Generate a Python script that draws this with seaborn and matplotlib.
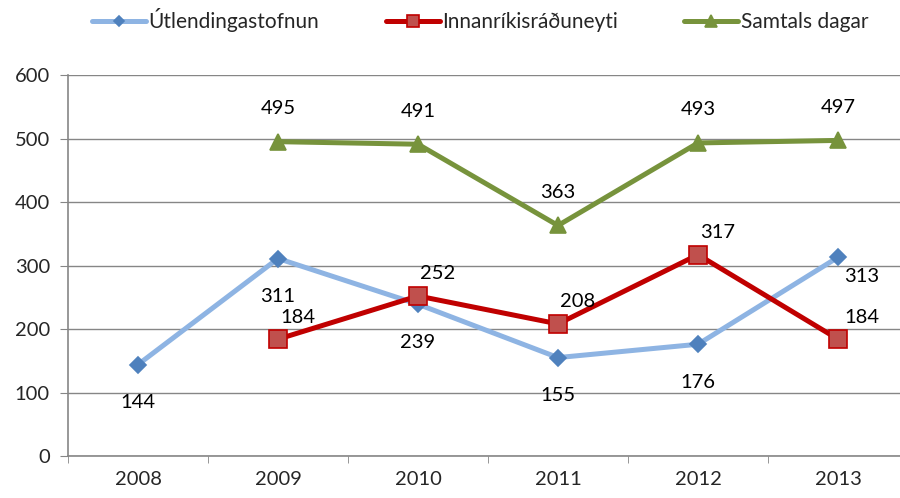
import matplotlib
matplotlib.use("Agg")
import matplotlib.pyplot as plt
from matplotlib.ticker import FixedLocator
import seaborn as sns
import pandas as pd
import numpy as np

years = ["2008", "2009", "2010", "2011", "2012", "2013"]
utlendingastofnun = [144, 311, 239, 155, 176, 313]
innanrikis = [np.nan, 184, 252, 208, 317, 184]
samtals = [np.nan, 495, 491, 363, 493, 497]

sns.set_style("white")
plt.rcParams["font.family"] = ["Lato", "DejaVu Sans"]

df = pd.DataFrame({
    "pos": range(len(years)),
    "Útlendingastofnun": utlendingastofnun,
    "Innanríkisráðuneyti": innanrikis,
    "Samtals dagar": samtals,
})

fig = plt.figure(figsize=(9, 4.98), dpi=100)
ax = fig.add_axes([68 / 900, 42 / 498, 840 / 900, 381 / 498])

styles = {
    "Útlendingastofnun": dict(color="#8EB4E3", marker="D", mfc="#4F81BD", mec="#4F81BD", ms=8),
    "Innanríkisráðuneyti": dict(color="#C00000", marker="s", mfc="#C0504D", mec="#C00000", ms=13),
    "Samtals dagar": dict(color="#77933C", marker="^", mfc="#77933C", mec="#77933C", ms=12),
}
label_offsets = {
    "Útlendingastofnun": (0, -38),
    "Innanríkisráðuneyti": (20, 22),
    "Samtals dagar": (0, 33),
}

for name, st in styles.items():
    sub = df.dropna(subset=[name])
    sns.lineplot(data=sub, x="pos", y=name, ax=ax, color=st["color"], lw=3.6,
                 marker=st["marker"], markersize=st["ms"], markerfacecolor=st["mfc"],
                 markeredgecolor=st["mec"], markeredgewidth=1.2, label=name, zorder=3)
    dx, dy = label_offsets[name]
    for x, y in zip(sub["pos"], sub[name]):
        ddx, ddy = dx, dy
        if name == "Útlendingastofnun" and x == 5:
            ddx, ddy = 24, -19
        if name == "Innanríkisráðuneyti" and x == 5:
            ddx = 24
        ax.annotate(f"{int(y)}", (x, y), xytext=(ddx * 0.72, ddy * 0.72), textcoords="offset points",
                    ha="center", va="center", fontsize=14.5, color="black", zorder=4)

ax.set_xlim(-0.5, 5.5)
ax.set_ylim(0, 600)
ax.set_yticks(range(0, 601, 100))
ax.set_xticks(range(len(years)))
ax.set_xticklabels(years)
ax.xaxis.set_minor_locator(FixedLocator(np.arange(-0.5, 5.6, 1)))
ax.tick_params(axis="x", which="major", length=0, labelsize=14.5, pad=11)
ax.tick_params(axis="x", which="minor", length=5, color="#868686", direction="out", bottom=True)
ax.tick_params(axis="y", length=6, color="#868686", direction="out", labelsize=14.5, pad=7, left=True)
ax.yaxis.grid(True, color="#868686", lw=1)
ax.set_axisbelow(True)
for s in ["top", "right"]:
    ax.spines[s].set_visible(False)
for s in ["left", "bottom"]:
    ax.spines[s].set_color("#868686")
    ax.spines[s].set_linewidth(1.2)
ax.set_xlabel("")
ax.set_ylabel("")

leg = ax.legend(loc="center", bbox_to_anchor=(480 / 900, 478 / 498), bbox_transform=fig.transFigure,
                ncol=3, frameon=False, fontsize=15, handlelength=2.6, columnspacing=3.2,
                handletextpad=0.1, markerscale=0.7)

fig.savefig("out.png", dpi=100)
